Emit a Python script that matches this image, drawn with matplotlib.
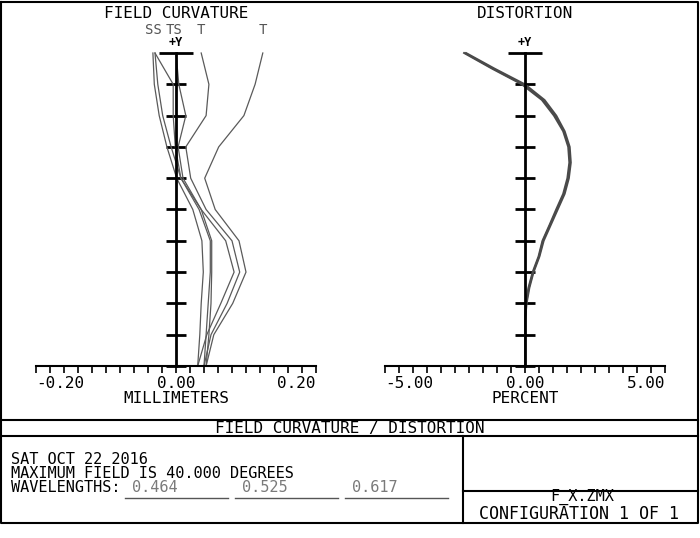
import numpy as np
import matplotlib
matplotlib.use("Agg")
import matplotlib.pyplot as plt
from matplotlib.ticker import MultipleLocator

plt.rcParams['font.family'] = ['DejaVu Sans Mono']

# relative field (0 = axis, 1 = 40 deg)
field = [0, 0.1, 0.2, 0.3, 0.4, 0.5, 0.6, 0.7, 0.8, 0.9, 1.0]
# field curvature in mm, tangential / sagittal for the three wavelengths
tan_1 = [0.043, 0.054, 0.081, 0.100, 0.090, 0.056, 0.041, 0.061, 0.097, 0.113, 0.124]
tan_2 = [0.040, 0.050, 0.073, 0.091, 0.080, 0.043, 0.021, 0.014, 0.043, 0.047, 0.036]
tan_3 = [0.031, 0.044, 0.064, 0.083, 0.071, 0.036, 0.007, -0.001, -0.004, -0.004, -0.030]
sag_1 = [0.031, 0.034, 0.036, 0.039, 0.037, 0.024, 0.001, -0.013, -0.024, -0.031, -0.033]
sag_2 = [0.040, 0.043, 0.046, 0.049, 0.049, 0.033, 0.007, -0.007, -0.019, -0.026, -0.030]
sag_3 = [0.043, 0.047, 0.050, 0.051, 0.051, 0.036, 0.010, 0.003, 0.014, 0.004, 0.000]
curve_labels = ['SS', 'TS', 'T', 'T']
curve_label_x = [-0.032, -0.003, 0.036, 0.124]

# distortion in percent
field_d = [0, 0.1, 0.15, 0.2, 0.25, 0.3, 0.35, 0.4, 0.45, 0.5, 0.55, 0.6, 0.65,
           0.7, 0.75, 0.8, 0.85, 0.9, 0.95, 1.0]
dist_1 = [0, 0, 0.0, 0.04, 0.14, 0.29, 0.50, 0.64, 0.89, 1.14, 1.39, 1.54, 1.61,
          1.57, 1.39, 1.07, 0.64, -0.07, -1.14, -2.14]
dist_2 = [0, 0, 0.01, 0.06, 0.16, 0.31, 0.52, 0.67, 0.92, 1.17, 1.42, 1.57, 1.64,
          1.60, 1.42, 1.12, 0.70, 0.00, -1.08, -2.10]
dist_3 = [0, 0, 0.0, 0.03, 0.12, 0.27, 0.48, 0.62, 0.87, 1.11, 1.36, 1.51, 1.58,
          1.54, 1.36, 1.03, 0.60, -0.12, -1.18, -2.18]

wavelengths = ['0.464', '0.525', '0.617']

W, H = 700, 538
FS = 11.5
fig = plt.figure(figsize=(W / 100, H / 100), dpi=100)

def px_axes(x0, x1, y0, y1):
    return fig.add_axes([x0 / W, 1 - y1 / H, (x1 - x0) / W, (y1 - y0) / H])

def zemax_axes(ax, xmax, minor, labels, xlabel, title):
    ax.set_xlim(-xmax, xmax)
    ax.set_ylim(0, 1)
    ax.patch.set_alpha(0)
    for s in ['top', 'right']:
        ax.spines[s].set_visible(False)
    ax.spines['left'].set_position(('data', 0))
    ax.spines['left'].set_linewidth(2)
    ax.spines['bottom'].set_linewidth(1.5)
    ax.set_yticks([1.0])
    ax.yaxis.set_minor_locator(MultipleLocator(0.1))
    ax.tick_params(axis='y', which='major', direction='inout', length=24, width=2,
                   labelleft=False)
    ax.tick_params(axis='y', which='minor', direction='inout', length=14, width=2)
    ax.set_xticks([-xmax, 0, xmax])
    ax.xaxis.set_minor_locator(MultipleLocator(minor))
    ax.tick_params(axis='x', which='both', direction='out', length=5, width=1.2,
                   pad=2, labelsize=FS)
    labs = ax.set_xticklabels(labels)
    labs[0].set_ha('left')
    labs[-1].set_ha('right')
    ax.set_xlabel(xlabel, fontsize=FS, labelpad=0.5)
    tr = ax.get_xaxis_transform()
    ax.text(0, 1 + 11 / 313, '+Y', transform=tr, ha='center', va='center',
            fontsize=8.5, fontweight='bold')
    ax.text(0, 1 + 39 / 313, title, transform=tr, ha='center', va='center',
            fontsize=FS)

# field curvature
ax1 = px_axes(36, 316, 53, 366)
zemax_axes(ax1, 0.2, 0.02, ['-0.20', '0.00', '0.20'], 'MILLIMETERS', 'FIELD CURVATURE')
for c in [tan_1, tan_2, tan_3, sag_1, sag_2, sag_3]:
    ax1.plot(c, field, color='#5a5a5a', lw=0.9, clip_on=False)
for lab, xv in zip(curve_labels, curve_label_x):
    ax1.text(xv, 1 + 23 / 313, lab, ha='center', va='center', fontsize=10,
             color='#555555')

# distortion
ax2 = px_axes(385, 665, 53, 366)
zemax_axes(ax2, 5.0, 0.5, ['-5.00', '0.00', '5.00'], 'PERCENT', 'DISTORTION')
for c in [dist_1, dist_2, dist_3]:
    ax2.plot(c, field_d, color='#4a4a4a', lw=1.3, clip_on=False)

# frame and text block
ov = fig.add_axes([0, 0, 1, 1])
ov.set_xlim(0, W)
ov.set_ylim(H, 0)
ov.axis('off')
k = dict(color='black', lw=1.5)
ov.plot([1, 698, 698, 1, 1], [2, 2, 523, 523, 2], **k)
ov.plot([1, 698], [420, 420], **k)
ov.plot([1, 698], [436, 436], **k)
ov.plot([463, 463], [436, 523], **k)
ov.plot([463, 698], [491, 491], **k)
ov.text(350, 428, 'FIELD CURVATURE / DISTORTION', ha='center', va='center', fontsize=FS)
ov.text(11, 477.5, 'SAT OCT 22 2016\nMAXIMUM FIELD IS 40.000 DEGREES',
        ha='left', va='baseline', fontsize=11, linespacing=0.85)
ov.text(11, 492, 'WAVELENGTHS:', ha='left', va='baseline', fontsize=11)
for i, w in enumerate(wavelengths):
    x0 = 125 + i * 110
    ov.text(x0 + 7, 492, w, ha='left', va='baseline', fontsize=11, color='#7a7a7a')
    ov.plot([x0, x0 + 103], [498, 498], color='#555555', lw=1)
ov.text(582, 501, 'F_X.ZMX', ha='center', va='baseline', fontsize=11)
ov.text(579, 519, 'CONFIGURATION 1 OF 1', ha='center', va='baseline', fontsize=12)

fig.savefig('out.png', dpi=100)
